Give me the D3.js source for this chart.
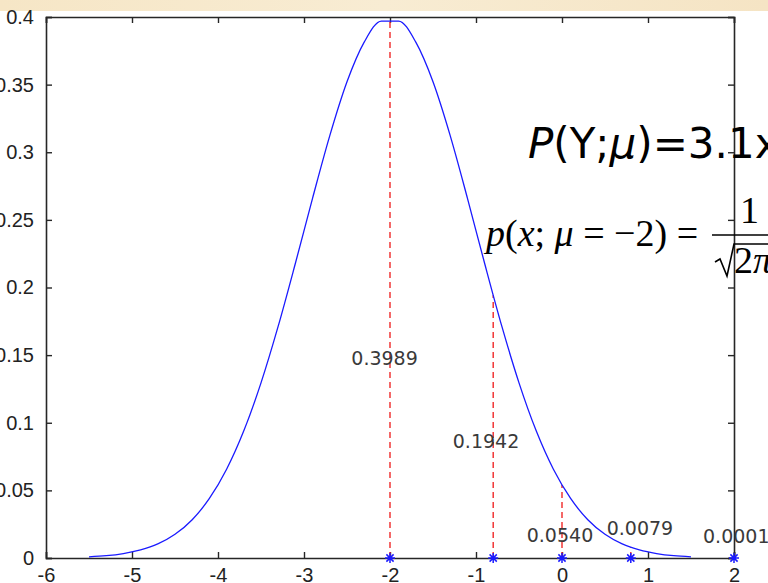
<!DOCTYPE html>
<html>
<head>
<meta charset="utf-8">
<script src="https://cdn.jsdelivr.net/npm/d3@7"></script>
<style>
  html, body { margin: 0; padding: 0; background: #fff; }
  svg { display: block; }
</style>
</head>
<body>
<div id="chart"></div>
<script>
// curve samples of p(x; mu=-2)
const curveX = [-5.5, -5.3, -5.1, -4.9, -4.7, -4.5, -4.3, -4.1, -3.9, -3.7, -3.5, -3.3,
                -3.1, -2.9, -2.7, -2.5, -2.3, -2.1, -1.9, -1.7, -1.5, -1.3, -1.1, -0.9,
                -0.7, -0.5, -0.3, -0.1, 0.1, 0.3, 0.5, 0.7, 0.9, 1.1, 1.3, 1.5];
const curveY = [0.0009, 0.0017, 0.0033, 0.0060, 0.0104, 0.0175, 0.0283, 0.0440, 0.0656, 0.0940, 0.1295, 0.1714,
                0.2179, 0.2661, 0.3123, 0.3521, 0.3814, 0.3970, 0.3970, 0.3814, 0.3521, 0.3123, 0.2661, 0.2179,
                0.1714, 0.1295, 0.0940, 0.0656, 0.0440, 0.0283, 0.0175, 0.0104, 0.0060, 0.0033, 0.0017, 0.0009];

// observed samples (stars) and their density values
const sampleX = [-2, -0.8, 0, 0.8, 2];
const sampleP = [0.3989, 0.1942, 0.0540, 0.0079, 0.0001];
const sampleLabels = ["0.3989", "0.1942", "0.0540", "0.0079", "0.0001"];
// where each value label sits (data units, left edge / middle)
const labelX = [-2.45, -1.27, -0.41, 0.52, 1.64];
const labelY = [0.148, 0.0865, 0.017, 0.022, 0.016];

const xTicks = [-6, -5, -4, -3, -2, -1, 0, 1, 2];
const yTicks = [0, 0.05, 0.1, 0.15, 0.2, 0.25, 0.3, 0.35, 0.4];

const width = 768, height = 583;
const margin = {top: 17, left: 46, right: 34, bottom: 25};

const svg = d3.select("#chart").append("svg")
    .attr("width", width)
    .attr("height", height);

// parchment strip at the top
const defs = svg.append("defs");
const grad = defs.append("linearGradient").attr("id", "parch")
    .attr("x1", 0).attr("x2", 1).attr("y1", 0).attr("y2", 0);
grad.append("stop").attr("offset", "0%").attr("stop-color", "#f6e6c6");
grad.append("stop").attr("offset", "50%").attr("stop-color", "#f8ecd3");
grad.append("stop").attr("offset", "100%").attr("stop-color", "#f5e4c4");
svg.append("rect").attr("x", 0).attr("y", 0)
    .attr("width", width).attr("height", 11)
    .attr("fill", "url(#parch)");

const x = d3.scaleLinear().domain([-6, 2]).range([margin.left, width - margin.right]);
const y = d3.scaleLinear().domain([0, 0.4]).range([height - margin.bottom, margin.top]);

const axisColor = "#262626";
const tickLen = 6;

// axes: MATLAB style box with inward ticks
const xAxisB = svg.append("g").attr("transform", `translate(0,${y(0)})`)
    .call(d3.axisBottom(x).tickValues(xTicks).tickSize(-tickLen).tickPadding(10).tickFormat(d3.format("d")));
const xAxisT = svg.append("g").attr("transform", `translate(0,${y(0.4)})`)
    .call(d3.axisTop(x).tickValues(xTicks).tickSize(-tickLen).tickFormat(""));
const yAxisL = svg.append("g").attr("transform", `translate(${x(-6)},0)`)
    .call(d3.axisLeft(y).tickValues(yTicks).tickSize(-tickLen).tickPadding(12).tickFormat(d => d === 0 ? "0" : String(d)));
const yAxisR = svg.append("g").attr("transform", `translate(${x(2)},0)`)
    .call(d3.axisRight(y).tickValues(yTicks).tickSize(-tickLen).tickFormat(""));

[xAxisB, xAxisT, yAxisL, yAxisR].forEach(g => {
    g.select(".domain").attr("stroke", axisColor).attr("stroke-width", 1.6);
    g.selectAll(".tick line").attr("stroke", axisColor).attr("stroke-width", 1.4);
    g.selectAll(".tick text")
        .attr("fill", "#222")
        .style("font-family", "'Liberation Sans', Arial, sans-serif")
        .style("font-size", "20px");
});
xAxisB.selectAll(".tick text").attr("dy", "0.71em").text(d => d < 0 ? "-" + Math.abs(d) : d);

// red dashed drop lines
svg.append("g").selectAll("line")
    .data(sampleX)
    .enter().append("line")
    .attr("x1", d => x(d)).attr("x2", d => x(d))
    .attr("y1", y(0))
    .attr("y2", (d, i) => y(sampleP[i]))
    .attr("stroke", "#f02828")
    .attr("stroke-width", 1.4)
    .attr("stroke-dasharray", "6,4");

// density curve
const line = d3.line().x(d => x(d[0])).y(d => y(d[1])).curve(d3.curveMonotoneX);
svg.append("path")
    .datum(d3.zip(curveX, curveY))
    .attr("d", line)
    .attr("fill", "none")
    .attr("stroke", "#1a1aff")
    .attr("stroke-width", 1.3);

// star markers on the axis
const stars = svg.append("g").selectAll("g")
    .data(sampleX)
    .enter().append("g")
    .attr("transform", d => `translate(${x(d)},${y(0)})`);
const r = 5, rd = 3.6;
stars.append("path")
    .attr("d", `M${-r},0L${r},0M0,${-r}L0,${r}M${-rd},${-rd}L${rd},${rd}M${-rd},${rd}L${rd},${-rd}`)
    .attr("stroke", "#1a1aff")
    .attr("stroke-width", 1.5)
    .attr("fill", "none");

// value labels
svg.append("g").selectAll("text")
    .data(sampleLabels)
    .enter().append("text")
    .attr("x", (d, i) => x(labelX[i]))
    .attr("y", (d, i) => y(labelY[i]))
    .attr("dy", "0.36em")
    .attr("fill", "#3a3a3a")
    .style("font-family", "'DejaVu Sans', Verdana, sans-serif")
    .style("font-size", "19px")
    .text(d => d);

// overlaid slide text
const big = svg.append("text")
    .attr("x", 528).attr("y", 158)
    .attr("fill", "#000")
    .style("font-family", "'DejaVu Sans', Verdana, sans-serif")
    .style("font-size", "42px");
big.append("tspan").style("font-style", "italic").text("P");
big.append("tspan").text("(Y;");
big.append("tspan").style("font-style", "italic").text("μ");
big.append("tspan").text(")=3.1x");

const serif = "'Liberation Serif', 'Times New Roman', serif";
const f = svg.append("text")
    .attr("x", 486).attr("y", 246)
    .attr("fill", "#000")
    .style("font-family", serif)
    .style("font-size", "38px");
f.append("tspan").style("font-style", "italic").text("p");
f.append("tspan").text("(");
f.append("tspan").style("font-style", "italic").text("x");
f.append("tspan").text("; ");
f.append("tspan").style("font-style", "italic").text("μ");
f.append("tspan").text(" = −2) = ");

svg.append("text").attr("x", 740).attr("y", 223)
    .style("font-family", serif).style("font-size", "38px").text("1");
svg.append("line").attr("x1", 712).attr("x2", 768).attr("y1", 235).attr("y2", 235)
    .attr("stroke", "#000").attr("stroke-width", 1.6);
svg.append("path")
    .attr("d", "M715,262L720,259L727,276L734,244L768,244")
    .attr("fill", "none").attr("stroke", "#000").attr("stroke-width", 1.6);
const den = svg.append("text").attr("x", 734).attr("y", 273)
    .style("font-family", serif).style("font-size", "38px");
den.append("tspan").text("2");
den.append("tspan").style("font-style", "italic").text("π");
</script>
</body>
</html>
